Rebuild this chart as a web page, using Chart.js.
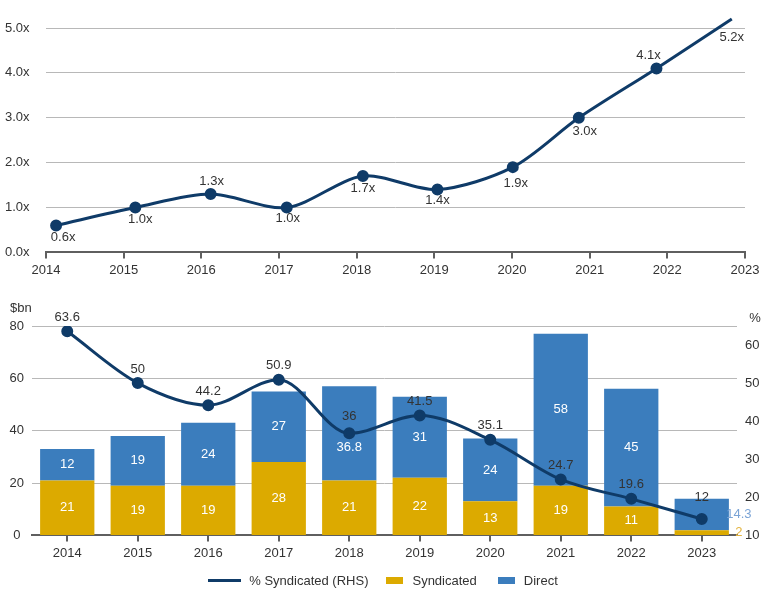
<!DOCTYPE html>
<html>
<head>
<meta charset="utf-8">
<script src="https://cdn.jsdelivr.net/npm/chart.js@4.4.1/dist/chart.umd.min.js"></script>
<style>
  body { margin: 0; background: #fff; width: 770px; height: 595px; position: relative; overflow: hidden;
         font-family: "Liberation Sans", Arial, sans-serif; }
  #topChart { position: absolute; left: 0; top: 0; }
  #bottomChart { position: absolute; left: 0; top: 280px; }
  #legend { position: absolute; left: 0; top: 570px; width: 766px; height: 20px; display: flex;
            justify-content: center; align-items: center; font-size: 13px; color: #333; }
  #legend .line { width: 33px; height: 3px; background: #0f3b68; margin-right: 8px; }
  #legend .box { width: 17px; height: 7px; margin-right: 9px; }
  #legend .gap { width: 18px; }
</style>
</head>
<body>
<canvas id="topChart" width="770" height="285"></canvas>
<canvas id="bottomChart" width="770" height="290"></canvas>
<div id="legend">
  <span class="line"></span><span>% Syndicated (RHS)</span><span class="gap"></span>
  <span class="box" style="background:#dcaa00"></span><span>Syndicated</span><span class="gap" style="width:21px"></span>
  <span class="box" style="background:#3b7dbd"></span><span>Direct</span>
</div>
<script>
// top chart: multiple per year (points sit a little off the year ticks)
const multipleYears = [2014.13, 2015.15, 2016.12, 2017.10, 2018.08, 2019.04, 2020.01, 2020.86, 2021.86, 2022.83];
const multiples = [0.6, 1.0, 1.3, 1.0, 1.7, 1.4, 1.9, 3.0, 4.1, 5.2];

// bottom chart: $bn volumes and % syndicated
const categories = ['2014', '2015', '2016', '2017', '2018', '2019', '2020', '2021', '2022', '2023'];
const syndicated = [21, 19, 19, 28, 21, 22, 13, 19, 11, 2];
const direct = [12, 19, 24, 27, 36, 31, 24, 58, 45, 12];
const pctSyndicated = [63.6, 50, 44.2, 50.9, 36.8, 41.5, 35.1, 24.7, 19.6, 14.3];

const NAVY = '#0f3b68';
const YELLOW = '#dcaa00';
const BLUE = '#3b7dbd';
const TEXT = '#333';
const GRID = '#b8b8b8';
const AXIS = '#5f5f5f';
const FONT = { family: '"Liberation Sans", Arial, sans-serif', size: 13 };
const FONT_CSS = '13px "Liberation Sans", Arial, sans-serif';

// where each multiple label sits relative to its point [dx, dy]
const multipleLabelOffsets = [[7, 12], [5, 12], [1, -13], [1, 11], [0, 12], [0, 11], [3, 16], [6, 14], [-8, -13], [0, 18]];

const multipleLabels = {
    id: 'multipleLabels',
    afterDatasetsDraw(chart) {
        const ctx = chart.ctx;
        const pts = chart.getDatasetMeta(0).data;
        ctx.save();
        ctx.font = FONT_CSS;
        ctx.fillStyle = TEXT;
        ctx.textAlign = 'center';
        ctx.textBaseline = 'middle';
        pts.forEach((p, i) => {
            const off = multipleLabelOffsets[i];
            ctx.fillText(multiples[i].toFixed(1) + 'x', p.x + off[0], p.y + off[1]);
        });
        ctx.restore();
    }
};

new Chart(document.getElementById('topChart'), {
    type: 'line',
    data: {
        datasets: [{
            data: multipleYears.map((x, i) => ({ x: x, y: multiples[i] })),
            borderColor: NAVY,
            backgroundColor: NAVY,
            borderWidth: 3,
            pointRadius: 4.5,
            pointHoverRadius: 4.5,
            tension: 0.3,
            clip: false
        }]
    },
    options: {
        responsive: false,
        animation: false,
        events: [],
        layout: { padding: { left: 5, right: 25, top: 28, bottom: 3 } },
        plugins: { legend: { display: false }, tooltip: { enabled: false } },
        scales: {
            x: {
                type: 'linear',
                min: 2014,
                max: 2023,
                ticks: { stepSize: 1, callback: v => String(v), color: TEXT, font: FONT, padding: 4, maxRotation: 0 },
                grid: { drawOnChartArea: false, tickLength: 6, color: AXIS, lineWidth: 2 },
                border: { color: AXIS, width: 2 }
            },
            y: {
                min: 0,
                max: 5,
                ticks: { stepSize: 1, callback: v => v.toFixed(1) + 'x', color: TEXT, font: FONT, crossAlign: 'far' },
                grid: { color: GRID, drawTicks: false },
                border: { display: false },
                afterFit: s => { s.width = 41; }
            }
        }
    },
    plugins: [multipleLabels]
});

// labels on the bars and line; 2018 and 2023 are placed oddly in the original
const oddLabels = { '2018': 'swapped', '2023': 'outside' };

const bottomLabels = {
    id: 'bottomLabels',
    afterDatasetsDraw(chart) {
        const ctx = chart.ctx;
        const line = chart.getDatasetMeta(0).data;
        const syn = chart.getDatasetMeta(1).data;
        const dir = chart.getDatasetMeta(2).data;
        const put = (txt, x, y, color, align) => {
            ctx.fillStyle = color;
            ctx.textAlign = align || 'center';
            ctx.fillText(txt, x, y);
        };
        ctx.save();
        ctx.font = FONT_CSS;
        ctx.textBaseline = 'middle';
        categories.forEach((c, i) => {
            const s = syn[i], d = dir[i], p = line[i];
            const outX = s.x + s.width / 2 + 10;
            const mode = oddLabels[c];

            if (s.base - s.y < 14) put(String(syndicated[i]), outX, (s.y + s.base) / 2, '#e3b441');
            else put(String(syndicated[i]), s.x, (s.y + s.base) / 2, '#fff');

            if (mode === 'swapped') {
                put(String(direct[i]), p.x, p.y - 17, TEXT);
                put(String(pctSyndicated[i]), p.x, p.y + 14, '#fff');
            } else if (mode === 'outside') {
                put(String(direct[i]), d.x, d.y - 1, TEXT);
                put(String(pctSyndicated[i]), outX, p.y - 5, '#7ba4d6');
            } else {
                put(String(direct[i]), d.x, (d.y + d.base) / 2, '#fff');
                put(String(pctSyndicated[i]), p.x, p.y - 14, TEXT);
            }
        });
        // axis unit captions
        put('$bn', 10, 28, TEXT, 'left');
        put('%', 755, 38, TEXT, 'center');
        ctx.restore();
    }
};

new Chart(document.getElementById('bottomChart'), {
    type: 'bar',
    data: {
        labels: categories,
        datasets: [{
            type: 'line',
            label: '% Syndicated (RHS)',
            data: pctSyndicated,
            yAxisID: 'y1',
            borderColor: NAVY,
            backgroundColor: NAVY,
            borderWidth: 3,
            pointRadius: 4.5,
            pointHoverRadius: 4.5,
            cubicInterpolationMode: 'monotone',
            order: 0
        }, {
            label: 'Syndicated',
            data: syndicated,
            backgroundColor: YELLOW,
            barPercentage: 0.77,
            categoryPercentage: 1,
            order: 1
        }, {
            label: 'Direct',
            data: direct,
            backgroundColor: BLUE,
            barPercentage: 0.77,
            categoryPercentage: 1,
            order: 1
        }]
    },
    options: {
        responsive: false,
        animation: false,
        events: [],
        layout: { padding: { left: 0, right: 0, top: 46, bottom: 5 } },
        plugins: { legend: { display: false }, tooltip: { enabled: false } },
        scales: {
            x: {
                stacked: true,
                ticks: { color: TEXT, font: FONT, padding: 4, maxRotation: 0 },
                grid: { offset: false, drawOnChartArea: false, tickLength: 6, color: AXIS, lineWidth: 2 },
                border: { color: AXIS, width: 2 }
            },
            y: {
                stacked: true,
                min: 0,
                max: 80,
                ticks: { stepSize: 20, color: TEXT, font: FONT, crossAlign: 'center', padding: 8 },
                grid: { color: GRID, drawTicks: false },
                border: { display: false },
                afterFit: s => { s.width = 32; }
            },
            y1: {
                position: 'right',
                min: 10,
                max: 65,
                ticks: { stepSize: 10, includeBounds: false, color: TEXT, font: FONT, padding: 8 },
                grid: { display: false, drawTicks: false },
                border: { display: false },
                afterFit: s => { s.width = 33; }
            }
        }
    },
    plugins: [bottomLabels]
});
</script>
</body>
</html>
